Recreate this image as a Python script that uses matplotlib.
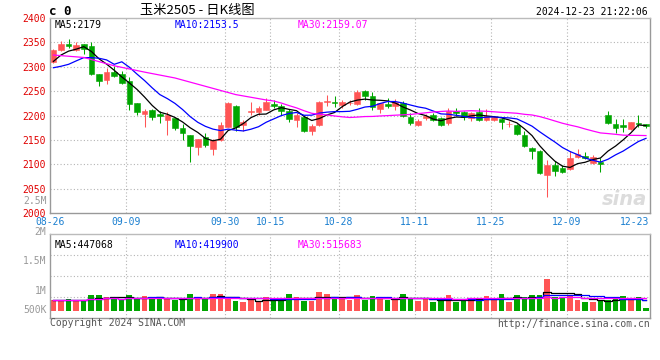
import matplotlib
matplotlib.use('Agg')
import matplotlib.pyplot as plt
import matplotlib.transforms as mtransforms
import numpy as np
import pandas as pd

# daily candles, 2024-08-26 .. 2024-12-23 (79 trading days)
opens = [2310.6, 2334.4, 2346.6, 2335.0, 2346.6, 2342.5, 2285.4, 2273.2, 2289.5, 2285.4,
         2271.1, 2225.6, 2203.1, 2212.0, 2203.0, 2190.2, 2195.6, 2175.2, 2159.6, 2135.1,
         2156.2, 2131.0, 2150.0, 2177.3, 2220.1, 2180.0, 2208.0, 2207.9, 2212.0, 2224.2,
         2218.8, 2209.2, 2190.2, 2196.3, 2167.8, 2180.0, 2227.0, 2227.6, 2220.8, 2225.0,
         2223.5, 2250.7, 2239.8, 2213.3, 2224.2, 2218.8, 2224.9, 2196.3, 2181.4, 2195.0,
         2200.4, 2194.9, 2184.8, 2208.6, 2207.2, 2195.0, 2207.2, 2190.2, 2190.9, 2193.6,
         2182.5, 2181.4, 2161.0, 2133.8, 2128.3, 2078.0, 2099.8, 2092.3, 2090.2, 2115.4,
         2117.4, 2103.8, 2105.2, 2201.8, 2183.4, 2180.0, 2172.5, 2185.4, 2183.4]
highs = [2336.0, 2353.4, 2356.8, 2350.7, 2347.0, 2350.0, 2286.0, 2297.0, 2302.4, 2291.5,
         2278.0, 2226.0, 2214.0, 2212.5, 2208.6, 2207.0, 2196.0, 2182.7, 2160.0, 2152.0,
         2163.7, 2152.0, 2186.8, 2228.3, 2221.0, 2191.6, 2227.6, 2218.8, 2236.4, 2231.0,
         2222.8, 2214.0, 2205.8, 2199.0, 2182.7, 2229.0, 2241.9, 2240.5, 2231.7, 2231.7,
         2252.8, 2252.0, 2248.7, 2226.5, 2236.4, 2233.7, 2229.6, 2204.5, 2193.0, 2203.8,
         2205.0, 2197.0, 2215.4, 2216.0, 2210.0, 2206.5, 2216.0, 2214.0, 2199.7, 2195.0,
         2188.2, 2182.7, 2169.1, 2135.8, 2129.7, 2108.6, 2107.9, 2099.8, 2127.0, 2131.7,
         2125.6, 2118.8, 2113.4, 2209.9, 2192.9, 2193.6, 2187.5, 2200.4, 2183.6]
lows = [2307.0, 2332.3, 2337.8, 2333.0, 2326.2, 2283.4, 2259.6, 2265.7, 2278.0, 2264.3,
        2212.0, 2200.4, 2176.0, 2190.2, 2184.0, 2159.6, 2171.2, 2150.8, 2104.5, 2120.2,
        2135.1, 2118.8, 2148.7, 2176.5, 2169.0, 2169.0, 2201.8, 2201.8, 2210.6, 2216.0,
        2201.0, 2187.5, 2176.0, 2167.0, 2159.6, 2178.0, 2219.4, 2218.0, 2215.4, 2220.8,
        2222.2, 2232.4, 2210.6, 2205.5, 2215.4, 2211.3, 2197.7, 2180.0, 2178.0, 2190.2,
        2188.0, 2178.0, 2181.4, 2199.0, 2190.2, 2188.0, 2188.0, 2188.0, 2188.0, 2171.8,
        2176.0, 2159.6, 2135.8, 2112.0, 2081.4, 2033.8, 2076.0, 2082.8, 2088.9, 2113.4,
        2112.0, 2101.8, 2084.1, 2183.4, 2165.0, 2166.4, 2170.5, 2176.0, 2175.2]
closes = [2335.0, 2346.6, 2343.2, 2344.6, 2336.4, 2285.4, 2271.8, 2288.8, 2282.0, 2267.7,
          2223.5, 2206.5, 2210.0, 2196.3, 2199.0, 2201.8, 2173.9, 2163.7, 2137.2, 2151.4,
          2140.6, 2149.4, 2180.0, 2226.2, 2177.3, 2186.1, 2209.5, 2214.7, 2228.3, 2220.1,
          2208.6, 2192.2, 2201.0, 2169.0, 2179.3, 2228.3, 2229.0, 2226.0, 2228.3, 2226.6,
          2248.7, 2239.2, 2216.7, 2225.6, 2220.1, 2227.6, 2198.4, 2185.4, 2189.5, 2199.7,
          2191.0, 2181.4, 2208.6, 2204.5, 2197.7, 2205.2, 2190.9, 2198.4, 2196.3, 2186.1,
          2183.3, 2161.6, 2137.2, 2127.0, 2083.4, 2099.1, 2087.5, 2085.5, 2114.0, 2122.2,
          2113.4, 2115.4, 2100.4, 2185.4, 2173.9, 2176.6, 2186.1, 2182.0, 2179.0]
volumes = [436, 436, 460, 419, 436, 555, 555, 500, 476, 436,
           555, 476, 531, 452, 476, 476, 436, 476, 579, 500,
           452, 579, 579, 476, 412, 381, 452, 397, 500, 412,
           476, 579, 500, 412, 412, 626, 579, 476, 476, 425,
           555, 436, 531, 476, 436, 476, 579, 476, 412, 476,
           381, 412, 555, 381, 436, 436, 476, 531, 436, 579,
           397, 555, 500, 555, 555, 936, 500, 500, 555, 436,
           389, 389, 436, 436, 476, 531, 436, 500, 252]
volumes = [v * 1000 for v in volumes]

# moving averages before the window starts
ma5_head = [2311, 2324, 2332, 2336]
ma10_head = [2298, 2301, 2305, 2312, 2318.7, 2318.7, 2317.4, 2314, 2305]
ma30_head_idx = [0, 4, 8, 12, 16, 20, 24, 28]
ma30_head = [2324, 2319, 2302, 2289, 2277, 2260, 2243, 2232]

date_labels = ['08-26', '09-09', '09-30', '10-15', '10-28', '11-11', '11-25', '12-09', '12-23']
date_idx = [0, 10, 23, 29, 38, 48, 58, 68, 78]

price_ticks = [2000, 2050, 2100, 2150, 2200, 2250, 2300, 2350, 2400]

RED = '#ff5555'
GREEN = '#00a600'
GRID = '#b4b4b4'
EDGE = '#999999'
MONO = 'DejaVu Sans Mono'

n = len(closes)
x = np.arange(n)
close_s = pd.Series(closes)
ma5 = close_s.rolling(5).mean()
ma10 = close_s.rolling(10).mean()
ma30 = close_s.rolling(30).mean()
ma5[:len(ma5_head)] = ma5_head
ma10[:len(ma10_head)] = ma10_head

vol_s = pd.Series(volumes)
vma5 = vol_s.rolling(5, min_periods=1).mean()
vma10 = vol_s.rolling(10, min_periods=1).mean()
vma30 = vol_s.rolling(30, min_periods=1).mean()

colors = [RED if c >= o else GREEN for o, c in zip(opens, closes)]

fig = plt.figure(figsize=(6.6, 3.6), dpi=100)
W, H = 660.0, 360.0

def fx(px):
    return px / W

def fy(py):
    return 1 - py / H

ax = fig.add_axes([fx(50), fy(213.3), fx(600), (213.3 - 17.9) / H])
axv = fig.add_axes([fx(50), fy(318.3), fx(600), 84 / H])

xlim = (-0.42, -0.42 + 600 / 7.6)
grid_x = [i - 0.45 for i in date_idx[1:-1]]

# price panel
ax.set_xlim(*xlim)
ax.set_ylim(2000, 2400)
for p in price_ticks[1:-1]:
    ax.axhline(p, color=GRID, lw=0.8, ls=(0, (1, 2)), zorder=0)
for gx in grid_x:
    ax.axvline(gx, color=GRID, lw=0.8, ls=(0, (1, 2)), zorder=0)

ax.vlines(x, lows, highs, colors=colors, lw=0.75, zorder=2)
body_lo = np.minimum(opens, closes)
body_h = np.maximum(np.abs(np.array(closes) - np.array(opens)), 0.8)
ax.bar(x, body_h, bottom=body_lo, width=0.75, color=colors, edgecolor=colors,
       linewidth=0.4, zorder=3)

ax.plot(x, ma5, color='black', lw=0.9, zorder=4)
ax.plot(x, ma10, color='#0000ff', lw=0.9, zorder=4)
ax.plot(ma30_head_idx + list(x[29:]), ma30_head + list(ma30[29:]), color='#ff00ff', lw=0.9, zorder=4)

ax.set_yticks(price_ticks)
ax.set_yticklabels([str(p) for p in price_ticks])
ax.tick_params(axis='y', length=0, pad=3, labelcolor='#e00000', labelsize=7)
for t in ax.get_yticklabels():
    t.set_fontfamily(MONO)

ax.set_xticks([i - 0.45 for i in date_idx])
ax.set_xticklabels(date_labels)
ax.tick_params(axis='x', length=0, pad=3, labelcolor='#1a7fd0', labelsize=7)
for t in ax.get_xticklabels():
    t.set_fontfamily(MONO)
last = ax.get_xticklabels()[-1]
last.set_ha('right')
last.set_transform(last.get_transform() + mtransforms.ScaledTranslation(6.5 / 100, 0, fig.dpi_scale_trans))

for s in ax.spines.values():
    s.set_color(EDGE)
    s.set_linewidth(1)
ax.spines['top'].set_color('#bbbbbb')

ax.text(0.008, 0.965, 'MA5:2179', transform=ax.transAxes, color='black', fontsize=7,
        family=MONO, va='center')
ax.text(0.208, 0.965, 'MA10:2153.5', transform=ax.transAxes, color='#0000ff', fontsize=7,
        family=MONO, va='center')
ax.text(0.413, 0.965, 'MA30:2159.07', transform=ax.transAxes, color='#ff00ff', fontsize=7,
        family=MONO, va='center')
ax.text(0.995, 0.07, 'sina', transform=ax.transAxes, color='#dcdcdc', fontsize=14,
        style='italic', weight='bold', ha='right', va='center')

# volume panel
axv.set_xlim(*xlim)
axv.set_ylim(0, 2000000)
for v in [500000, 1000000, 1500000]:
    axv.axhline(v, color=GRID, lw=0.8, ls=(0, (1, 2)), zorder=0)
for gx in grid_x:
    axv.axvline(gx, color=GRID, lw=0.8, ls=(0, (1, 2)), zorder=0)
vol_floor = 170000
axv.bar(x, np.array(volumes) - vol_floor, bottom=vol_floor, width=0.75, color=colors, zorder=2)
axv.plot(x, vma5, color='black', lw=0.9, drawstyle='steps-mid', zorder=3)
axv.plot(x, vma10, color='#0000ff', lw=0.9, drawstyle='steps-mid', zorder=3)
axv.plot(x, vma30, color='#ff00ff', lw=0.9, drawstyle='steps-mid', zorder=3)
axv.set_xticks([])
axv.set_yticks([])
for s in axv.spines.values():
    s.set_color(EDGE)
    s.set_linewidth(1)
axv.spines['top'].set_color('#bbbbbb')

axv.text(0.008, 0.87, 'MA5:447068', transform=axv.transAxes, color='black', fontsize=7,
         family=MONO, va='center')
axv.text(0.208, 0.87, 'MA10:419900', transform=axv.transAxes, color='#0000ff', fontsize=7,
         family=MONO, va='center')
axv.text(0.413, 0.87, 'MA30:515683', transform=axv.transAxes, color='#ff00ff', fontsize=7,
         family=MONO, va='center')

# volume scale labels (sina places them a bit off the grid)
for lab, py in [('2.5M', 200.7), ('2M', 231.5), ('1.5M', 261), ('1M', 290.7), ('500K', 310)]:
    fig.text(fx(46.5), fy(py), lab, color='#999999', fontsize=7, family=MONO,
             ha='right', va='center')

# header and footer
fig.text(fx(49), fy(11.5), 'c 0', fontsize=9, family=MONO, weight='bold', va='center')
fig.text(fx(140), fy(10.5), '玉米2505 - 日K线图', fontsize=9.5,
         family=['Noto Sans CJK SC', 'DejaVu Sans'], va='center')
fig.text(fx(648), fy(12), '2024-12-23 21:22:06', fontsize=7, family=MONO, ha='right', va='center')
fig.text(fx(50), fy(323.5), 'Copyright 2024 SINA.COM', fontsize=7, family=MONO, color='#555555',
         va='center')
fig.text(fx(650), fy(324), 'http://finance.sina.com.cn', fontsize=7, family=MONO, color='#555555',
         ha='right', va='center')

plt.savefig('out.png', dpi=100)
